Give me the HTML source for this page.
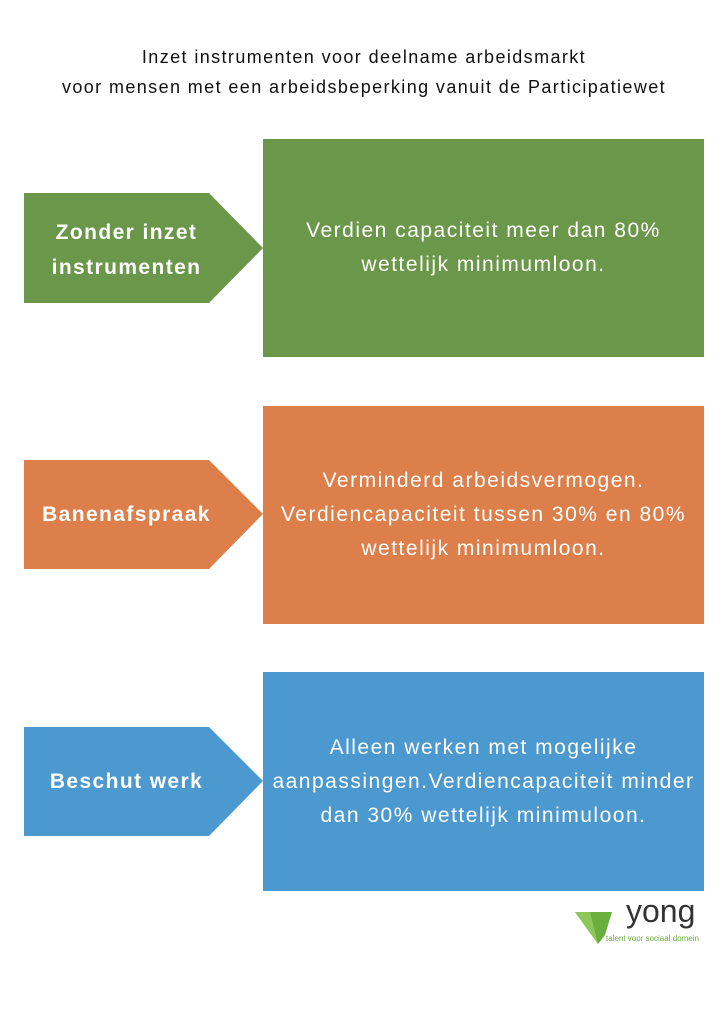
<!DOCTYPE html>
<html><head><meta charset="utf-8"><style>
body{margin:0;width:728px;height:1030px;background:#fff;position:relative;font-family:"Liberation Sans",sans-serif;overflow:hidden}
.t{position:absolute;left:0;width:728px;text-align:center;font-size:18px;letter-spacing:1.4px;color:#111}
.box{position:absolute;left:263px;width:441px;color:#fff;font-size:21px;letter-spacing:1.5px;line-height:34px;text-align:center;display:flex;align-items:center;justify-content:center;box-sizing:border-box;white-space:nowrap}
.lab{position:absolute;left:24px;width:205px;color:#fff;font-weight:bold;font-size:21px;letter-spacing:1.4px;line-height:35px;text-align:center;display:flex;align-items:center;justify-content:center;white-space:nowrap}
svg{position:absolute;left:0;top:0}
</style></head><body>
<div class="t" style="top:47px">Inzet instrumenten voor deelname arbeidsmarkt</div>
<div class="t" style="top:77px">voor mensen met een arbeidsbeperking vanuit de Participatiewet</div>
<svg width="728" height="1030">
<polygon points="24,193 209,193 263,248 209,303 24,303" fill="#6b974a"/>
<rect x="263" y="139" width="441" height="218" fill="#6b974a"/>
<polygon points="24,460 209,460 263,514 209,569 24,569" fill="#dc7f4b"/>
<rect x="263" y="406" width="441" height="218" fill="#dc7f4b"/>
<polygon points="24,727 209,727 263,781 209,836 24,836" fill="#4c99d0"/>
<rect x="263" y="672" width="441" height="219" fill="#4c99d0"/>
<polygon points="575,912 612,912 605,935 598,944" fill="#6aae3e"/>
<polygon points="575,912 590,912 598,944" fill="#8cc85a"/>
</svg>
<div class="lab" style="top:193px;height:110px;padding-top:4px;box-sizing:border-box">Zonder inzet<br>instrumenten</div>
<div class="box" style="top:139px;height:218px;padding-bottom:0px">Verdien capaciteit meer dan 80%<br>wettelijk minimumloon.</div>
<div class="lab" style="top:460px;height:109px">Banenafspraak</div>
<div class="box" style="top:406px;height:218px">Verminderd arbeidsvermogen.<br>Verdiencapaciteit tussen 30% en 80%<br>wettelijk minimumloon.</div>
<div class="lab" style="top:727px;height:109px">Beschut werk</div>
<div class="box" style="top:672px;height:219px;padding-bottom:0px">Alleen werken met mogelijke<br>aanpassingen.Verdiencapaciteit minder<br>dan 30% wettelijk minimuloon.</div>
<div style="position:absolute;left:626px;top:895px;font-size:32px;color:#333;line-height:32px">yong</div>
<div style="position:absolute;left:606px;top:934px;font-size:8px;color:#6aae3e">talent voor sociaal domein</div>
</body></html>
